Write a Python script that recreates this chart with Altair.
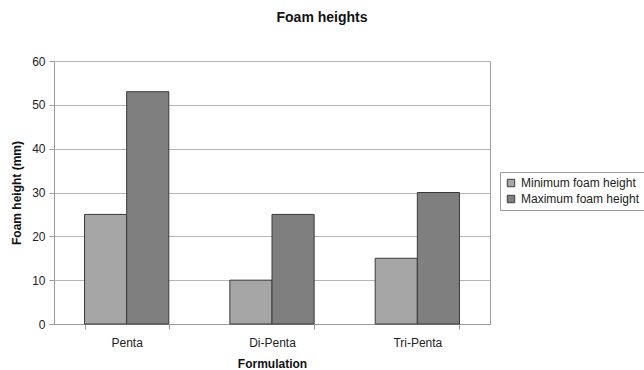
import altair as alt
import pandas as pd

formulations = ["Penta", "Di-Penta", "Tri-Penta"]
series = ["Minimum foam height", "Maximum foam height"]
min_heights = [25, 10, 15]
max_heights = [53, 25, 30]
bar_colors = ["#a6a6a6", "#7f7f7f"]

rows = []
for f, lo, hi in zip(formulations, min_heights, max_heights):
    rows.append({"Formulation": f, "Series": series[0], "Height": lo})
    rows.append({"Formulation": f, "Series": series[1], "Height": hi})
df = pd.DataFrame(rows)

FONT = "Liberation Sans"

bars = alt.Chart(df).mark_bar(stroke="#3a3a3a", strokeWidth=1).encode(
    x=alt.X(
        "Formulation:N",
        sort=formulations,
        title="Formulation",
        scale=alt.Scale(paddingInner=0.42, paddingOuter=0.21),
        axis=alt.Axis(
            labelAngle=0,
            tickBand="extent",
            grid=False,
            domainColor="#9a9a9a",
            tickColor="#9a9a9a",
            tickSize=5,
            labelPadding=8,
            titlePadding=10,
        ),
    ),
    xOffset=alt.XOffset("Series:N", sort=series),
    y=alt.Y(
        "Height:Q",
        title="Foam height (mm)",
        scale=alt.Scale(domain=[0, 60]),
        axis=alt.Axis(
            values=[0, 10, 20, 30, 40, 50, 60],
            gridColor="#b5b5b5",
            domainColor="#9a9a9a",
            tickColor="#9a9a9a",
            tickSize=5,
            labelPadding=4,
            titlePadding=8,
        ),
    ),
    color=alt.Color(
        "Series:N",
        sort=series,
        scale=alt.Scale(domain=series, range=bar_colors),
        legend=alt.Legend(
            title=None,
            orient="none",
            legendX=446,
            legendY=111,
            symbolType="square",
            symbolSize=55,
            symbolStrokeColor="#3a3a3a",
            symbolStrokeWidth=1,
            labelFontSize=12,
            labelFont=FONT,
            labelColor="#222222",
            labelOffset=4,
            strokeColor="#9a9a9a",
            padding=5,
            rowPadding=4,
        ),
    ),
)

chart = bars.properties(
    width=436,
    height=263,
    autosize=alt.AutoSizeParams(type="none"),
    padding={"left": 54, "top": 61, "right": 154, "bottom": 46},
    title=alt.Title(
        "Foam heights",
        font=FONT,
        fontSize=14,
        fontWeight="bold",
        color="#111111",
        anchor="middle",
        dx=50,
        offset=30,
    ),
).configure_view(
    stroke="#9a9a9a",
    strokeWidth=1,
).configure_axis(
    labelFont=FONT,
    labelFontSize=12,
    labelColor="#222222",
    titleFont=FONT,
    titleFontSize=12,
    titleFontWeight="bold",
    titleColor="#111111",
)

chart.save("out.html", embed_options={"renderer": "svg", "actions": False})
